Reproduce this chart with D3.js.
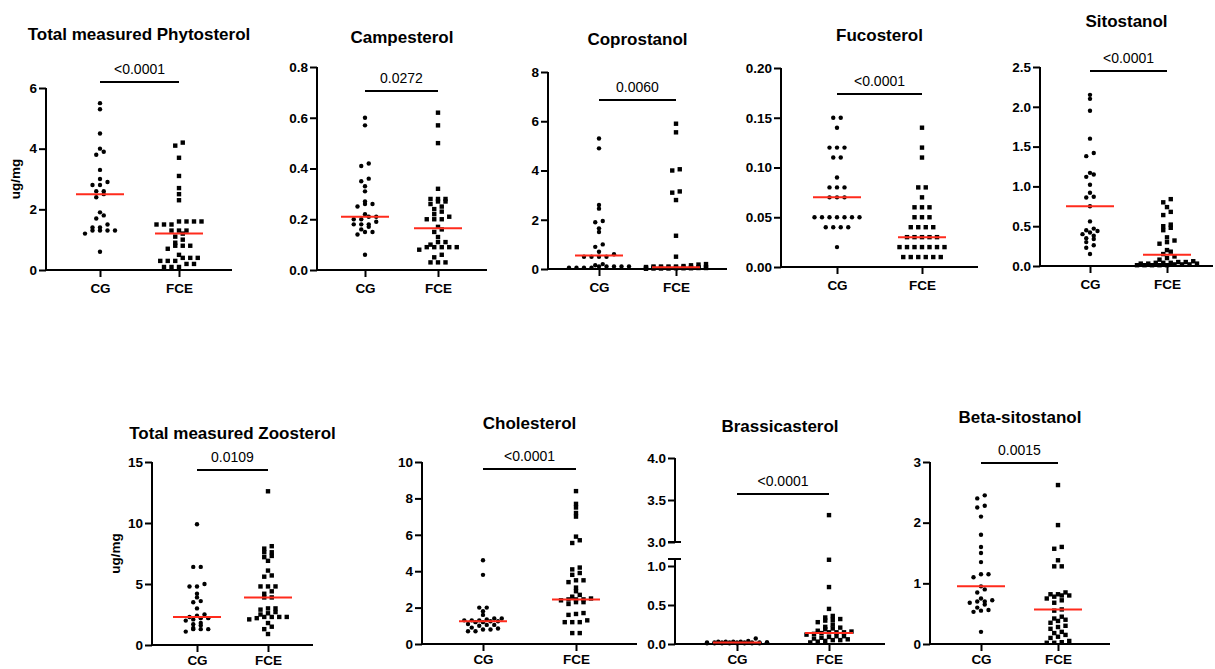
<!DOCTYPE html>
<html>
<head>
<meta charset="utf-8">
<script src="https://cdn.jsdelivr.net/npm/d3@7"></script>
<style>
  html, body { margin: 0; padding: 0; background: #fff; }
  svg { display: block; font-family: Helvetica, Arial, "Liberation Sans", sans-serif; }
</style>
</head>
<body>
<script>
// groups on every panel
var groups = ["CG", "FCE"];

var titles = [
  "Total measured Phytosterol", "Campesterol", "Coprostanol", "Fucosterol", "Sitostanol",
  "Total measured Zoosterol", "Cholesterol", "Brassicasterol", "Beta-sitostanol"
];
var pValues = ["<0.0001", "0.0272", "0.0060", "<0.0001", "<0.0001", "0.0109", "<0.0001", "<0.0001", "0.0015"];

// medians (red lines) [CG, FCE]
var medians = [
  [2.5, 1.2], [0.21, 0.165], [0.55, 0.07], [0.07, 0.03], [0.75, 0.14],
  [2.3, 3.9], [1.25, 2.45], [0.02, 0.14], [0.95, 0.57]
];

// y tick values
var phytoTicks = [0, 2, 4, 6];
var campTicks = [0, 0.2, 0.4, 0.6, 0.8];
var coproTicks = [0, 2, 4, 6, 8];
var fucoTicks = [0, 0.05, 0.1, 0.15, 0.2];
var sitoTicks = [0, 0.5, 1, 1.5, 2, 2.5];
var zooTicks = [0, 5, 10, 15];
var cholTicks = [0, 2, 4, 6, 8, 10];
var brassLowTicks = [0, 0.5, 1];
var brassHighTicks = [3, 3.5, 4];
var betaTicks = [0, 1, 2, 3];

// values (ug/mg)
var phytoCG = [5.5, 5.3, 4.5, 4.0, 3.9, 3.8, 3.3, 3.0, 2.9, 2.8, 2.8, 2.6, 2.6, 2.5, 2.4, 1.9, 1.8, 1.7, 1.5, 1.4, 1.4, 1.3, 1.3, 1.3, 1.3, 1.2, 0.6];
var phytoFCE = [4.2, 4.1, 3.7, 3.1, 2.7, 2.5, 2.3, 1.6, 1.6, 1.6, 1.6, 1.5, 1.5, 1.5, 1.3, 1.3, 1.3, 1.2, 1.1, 1.0, 0.9, 0.8, 0.8, 0.8, 0.7, 0.5, 0.4, 0.4, 0.4, 0.3, 0.3, 0.3, 0.2, 0.2, 0.1, 0.1, 0.1];

var campCG = [0.60, 0.57, 0.42, 0.41, 0.36, 0.35, 0.33, 0.31, 0.27, 0.26, 0.26, 0.25, 0.22, 0.21, 0.21, 0.20, 0.20, 0.19, 0.18, 0.18, 0.18, 0.17, 0.16, 0.15, 0.15, 0.14, 0.06];
var campFCE = [0.62, 0.57, 0.50, 0.32, 0.28, 0.28, 0.28, 0.27, 0.27, 0.26, 0.25, 0.24, 0.23, 0.22, 0.21, 0.20, 0.20, 0.20, 0.17, 0.16, 0.15, 0.13, 0.11, 0.11, 0.10, 0.09, 0.09, 0.09, 0.09, 0.09, 0.08, 0.06, 0.05, 0.03, 0.03, 0.03];

var coproCG = [5.3, 4.9, 2.6, 2.45, 1.95, 1.9, 1.65, 1.5, 1.0, 0.9, 0.7, 0.6, 0.5, 0.5, 0.5, 0.5, 0.2, 0.15, 0.1, 0.1, 0.1, 0.1, 0.1, 0.05, 0.05, 0.05, 0.05];
var coproFCE = [5.9, 5.55, 4.05, 4.0, 3.15, 3.1, 2.8, 1.35, 0.5, 0.2, 0.18, 0.15, 0.12, 0.1, 0.1, 0.1, 0.1, 0.08, 0.08, 0.07, 0.07, 0.06, 0.06, 0.05, 0.05, 0.05, 0.04, 0.04, 0.04, 0.03, 0.03, 0.03, 0.02, 0.02, 0.02, 0.01];

var fucoCG = [0.15, 0.15, 0.14, 0.12, 0.12, 0.12, 0.11, 0.11, 0.09, 0.08, 0.08, 0.08, 0.07, 0.07, 0.07, 0.05, 0.05, 0.05, 0.05, 0.05, 0.05, 0.05, 0.04, 0.04, 0.04, 0.04, 0.02];
var fucoFCE = [0.14, 0.12, 0.11, 0.08, 0.08, 0.07, 0.06, 0.06, 0.06, 0.05, 0.05, 0.05, 0.04, 0.04, 0.04, 0.04, 0.03, 0.03, 0.03, 0.03, 0.03, 0.02, 0.02, 0.02, 0.02, 0.02, 0.02, 0.02, 0.01, 0.01, 0.01, 0.01, 0.01, 0.01];

var sitoCG = [2.15, 2.1, 1.95, 1.6, 1.42, 1.38, 1.17, 1.15, 1.12, 1.02, 0.92, 0.87, 0.86, 0.75, 0.56, 0.47, 0.45, 0.44, 0.42, 0.40, 0.38, 0.35, 0.34, 0.30, 0.26, 0.23, 0.15];
var sitoFCE = [0.84, 0.80, 0.74, 0.68, 0.64, 0.52, 0.50, 0.48, 0.45, 0.36, 0.32, 0.30, 0.28, 0.20, 0.18, 0.15, 0.12, 0.10, 0.08, 0.06, 0.05, 0.05, 0.04, 0.04, 0.04, 0.03, 0.03, 0.03, 0.02, 0.02, 0.02, 0.01, 0.01, 0.01, 0.01, 0.01];

var zooCG = [9.9, 6.4, 6.4, 5.0, 4.8, 4.8, 4.2, 3.9, 3.6, 3.5, 3.0, 2.5, 2.4, 2.3, 2.2, 2.2, 2.1, 2.0, 1.8, 1.7, 1.6, 1.4, 1.3, 1.3, 1.3, 1.1];
var zooFCE = [12.6, 8.1, 7.9, 7.6, 7.6, 7.3, 7.2, 6.9, 6.1, 5.7, 5.6, 4.8, 4.8, 4.8, 4.4, 4.2, 3.9, 3.9, 3.0, 3.0, 2.9, 2.7, 2.6, 2.5, 2.3, 2.3, 2.3, 2.3, 2.2, 2.1, 1.8, 1.5, 1.3, 0.9];

var cholCG = [4.6, 3.8, 2.0, 2.0, 1.8, 1.6, 1.4, 1.4, 1.35, 1.3, 1.3, 1.3, 1.25, 1.25, 1.2, 1.2, 1.1, 1.05, 1.05, 1.0, 0.9, 0.85, 0.8, 0.8, 0.7, 0.7];
var cholFCE = [8.4, 7.7, 7.5, 7.2, 7.0, 5.9, 5.7, 5.55, 4.2, 4.1, 3.9, 3.8, 3.5, 3.5, 3.4, 3.1, 2.9, 2.7, 2.6, 2.5, 2.45, 2.45, 2.45, 2.4, 2.3, 2.3, 2.2, 1.7, 1.65, 1.6, 1.3, 1.2, 1.2, 1.2, 0.6, 0.6];

var brassCG = [0.07, 0.04, 0.03, 0.03, 0.03, 0.03, 0.02, 0.02, 0.02, 0.02, 0.02, 0.02, 0.02, 0.02, 0.02, 0.02, 0.01, 0.01, 0.01, 0.01, 0.01, 0.01, 0.01, 0.01];
var brassFCE = [3.32, 1.08, 0.73, 0.45, 0.36, 0.34, 0.32, 0.31, 0.30, 0.28, 0.25, 0.22, 0.21, 0.20, 0.19, 0.17, 0.16, 0.15, 0.15, 0.15, 0.14, 0.13, 0.12, 0.10, 0.10, 0.09, 0.08, 0.07, 0.06, 0.05, 0.05, 0.04, 0.03, 0.02];

var betaCG = [2.45, 2.4, 2.28, 2.25, 2.1, 1.8, 1.6, 1.5, 1.35, 1.15, 1.15, 1.1, 0.95, 0.9, 0.85, 0.75, 0.72, 0.70, 0.70, 0.68, 0.65, 0.60, 0.56, 0.55, 0.53, 0.20];
var betaFCE = [2.62, 1.96, 1.6, 1.57, 1.38, 1.28, 1.28, 0.85, 0.82, 0.82, 0.80, 0.80, 0.78, 0.75, 0.72, 0.68, 0.57, 0.55, 0.45, 0.42, 0.40, 0.38, 0.35, 0.30, 0.28, 0.25, 0.20, 0.18, 0.15, 0.12, 0.10, 0.05, 0.03, 0.02, 0.02];

var width = 1215, height = 669;
var RED = "#ff2b1c";

// panel layout (pixels)
var panels = [
  { cg: phytoCG, fce: phytoFCE, ticks: phytoTicks, fmt: "d", ax: 46, x0: 100, x1: 179, xEnd: 232, top: 88, bot: 270, titleY: 40, barY: 82, ylabX: 20 },
  { cg: campCG, fce: campFCE, ticks: campTicks, fmt: ".1f", ax: 317, x0: 365, x1: 438, xEnd: 487, top: 67, bot: 270, titleY: 43, barY: 91 },
  { cg: coproCG, fce: coproFCE, ticks: coproTicks, fmt: "d", ax: 548, x0: 599, x1: 676, xEnd: 727, top: 72, bot: 269, titleY: 45, barY: 100 },
  { cg: fucoCG, fce: fucoFCE, ticks: fucoTicks, fmt: ".2f", ax: 781, x0: 837, x1: 922, xEnd: 978, top: 68, bot: 267, titleY: 41, barY: 94 },
  { cg: sitoCG, fce: sitoFCE, ticks: sitoTicks, fmt: ".1f", ax: 1040, x0: 1090, x1: 1167, xEnd: 1213, top: 67, bot: 266, titleY: 27, barY: 71 },
  { cg: zooCG, fce: zooFCE, ticks: zooTicks, fmt: "d", ax: 152, x0: 197, x1: 268, xEnd: 313, top: 462, bot: 645, titleY: 439, barY: 470, ylabX: 120 },
  { cg: cholCG, fce: cholFCE, ticks: cholTicks, fmt: "d", ax: 422, x0: 483, x1: 576, xEnd: 637, top: 462, bot: 644, titleY: 429, barY: 469 },
  { cg: brassCG, fce: brassFCE, ticks: brassLowTicks, fmt: ".1f", ax: 675, x0: 737, x1: 829, xEnd: 885, top: 559, bot: 644, titleY: 432, barY: 494,
    brk: { ticks: brassHighTicks, top: 458, bot: 542 } },
  { cg: betaCG, fce: betaFCE, ticks: betaTicks, fmt: "d", ax: 930, x0: 981, x1: 1058, xEnd: 1110, top: 462, bot: 644, titleY: 423, barY: 463 }
];

var svg = d3.select("body").append("svg")
  .attr("width", width)
  .attr("height", height);

// GraphPad-like scatter: points of similar height share a centred row
function swarm(values, y, cx, step, maxRow) {
  var pts = values.map(function (v) { return { v: v, y: y(v) }; })
    .sort(function (a, b) { return b.y - a.y; });
  var rows = [], row = null;
  pts.forEach(function (p) {
    if (!row || row.length >= maxRow || Math.abs(p.y - row[0].y) > 3.5) {
      row = [];
      rows.push(row);
    }
    row.push(p);
  });
  rows.forEach(function (r) {
    r.forEach(function (p, i) {
      p.x = cx + (i - (r.length - 1) / 2) * step;
    });
  });
  return pts;
}

panels.forEach(function (p, i) {
  var g = svg.append("g");

  var yLow = d3.scaleLinear().domain([0, p.ticks[p.ticks.length - 1]]).range([p.bot, p.top]);
  if (p.brk) {
    // lower segment runs slightly past its last tick
    yLow = d3.scaleLinear().domain([0, 1]).range([p.bot, 566]);
  }
  var yHigh = p.brk
    ? d3.scaleLinear().domain([3, 4]).range([p.brk.bot, p.brk.top])
    : null;
  var y = function (v) { return yHigh && v >= 2 ? yHigh(v) : yLow(v); };

  var x = d3.scalePoint().domain(groups).range([p.x0, p.x1]);

  // y axis
  var yAxis = d3.axisLeft(yLow).tickValues(p.ticks).tickFormat(d3.format(p.fmt))
    .tickSize(7).tickPadding(2).tickSizeOuter(0);
  var ya = g.append("g").attr("transform", "translate(" + p.ax + ",0)").call(yAxis);
  ya.select(".domain").attr("d", "M0," + p.top + "V" + p.bot);

  if (p.brk) {
    var yAxis2 = d3.axisLeft(yHigh).tickValues(p.brk.ticks).tickFormat(d3.format(".1f"))
      .tickSize(7).tickPadding(2).tickSizeOuter(0);
    var ya2 = g.append("g").attr("transform", "translate(" + p.ax + ",0)").call(yAxis2);
    ya2.select(".domain").attr("d", "M0," + p.brk.top + "V" + p.brk.bot);
    // break caps
    [p.brk.bot, p.top].forEach(function (yy) {
      g.append("line")
        .attr("x1", p.ax - 7).attr("x2", p.ax + 6)
        .attr("y1", yy).attr("y2", yy)
        .attr("stroke", "#000").attr("stroke-width", 2);
    });
  }

  // x axis
  var xa = g.append("g").attr("transform", "translate(0," + p.bot + ")")
    .call(d3.axisBottom(x).tickSize(7).tickPadding(6).tickSizeOuter(0));
  xa.select(".domain").attr("d", "M" + p.ax + ",0H" + p.xEnd);

  g.selectAll(".domain, .tick line").attr("stroke", "#000").attr("stroke-width", 2);
  g.selectAll(".tick text")
    .attr("fill", "#000")
    .style("font-size", "13.5px")
    .style("font-weight", "bold")
    .style("font-family", "Helvetica, Arial, 'Liberation Sans', sans-serif");
  xa.selectAll(".tick text").attr("dy", null).attr("y", p.bot > 400 ? 20 : 23);

  // title
  g.append("text")
    .attr("x", (p.ax + p.xEnd) / 2).attr("y", p.titleY)
    .attr("text-anchor", "middle")
    .style("font-size", "17px").style("font-weight", "bold")
    .text(titles[i]);

  // significance bar
  g.append("line")
    .attr("x1", x("CG")).attr("x2", x("FCE"))
    .attr("y1", p.barY).attr("y2", p.barY)
    .attr("stroke", "#000").attr("stroke-width", 2);
  g.append("text")
    .attr("x", (x("CG") + x("FCE")) / 2).attr("y", p.barY - 8)
    .attr("text-anchor", "middle")
    .style("font-size", "14px")
    .text(pValues[i]);

  if (p.ylabX) {
    g.append("text")
      .attr("transform", "translate(" + p.ylabX + "," + ((p.top + p.bot) / 2) + ") rotate(-90)")
      .attr("text-anchor", "middle")
      .style("font-size", "13.5px").style("font-weight", "bold")
      .text("ug/mg");
  }

  // points
  var cgPts = swarm(p.cg, y, x("CG"), 7.5, 9);
  var fcePts = swarm(p.fce, y, x("FCE"), 7.5, 9);

  g.append("g").selectAll("circle").data(cgPts).enter().append("circle")
    .attr("cx", function (d) { return d.x; })
    .attr("cy", function (d) { return d.y; })
    .attr("r", 2.2)
    .attr("fill", "#000");

  g.append("g").selectAll("rect").data(fcePts).enter().append("rect")
    .attr("x", function (d) { return d.x - 2.2; })
    .attr("y", function (d) { return d.y - 2.2; })
    .attr("width", 4.4).attr("height", 4.4)
    .attr("fill", "#000");

  // medians
  groups.forEach(function (gName, k) {
    g.append("line")
      .attr("x1", x(gName) - 24).attr("x2", x(gName) + 24)
      .attr("y1", y(medians[i][k])).attr("y2", y(medians[i][k]))
      .attr("stroke", RED).attr("stroke-width", 2);
  });
});
</script>
</body>
</html>
